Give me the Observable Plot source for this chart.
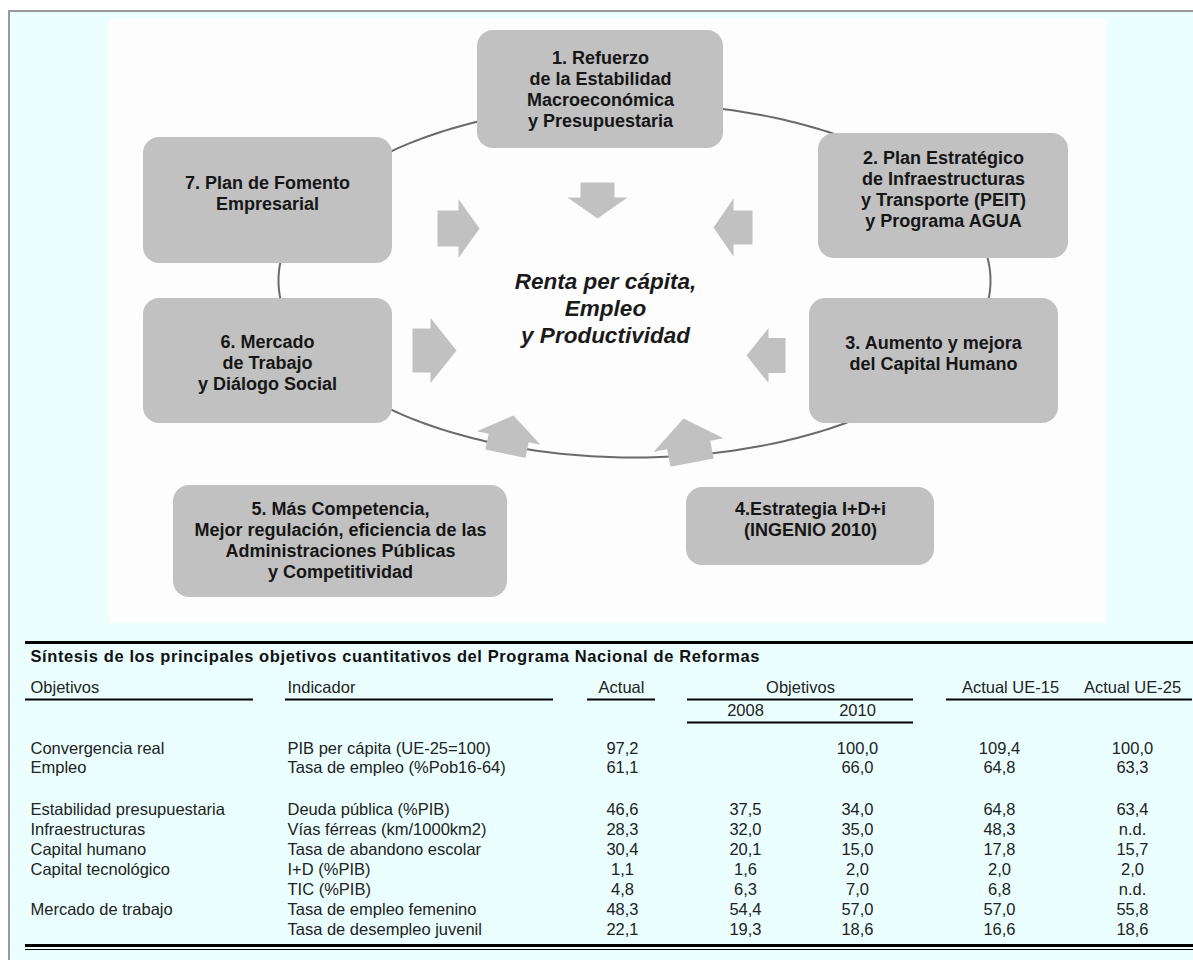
<!DOCTYPE html>
<html><head><meta charset="utf-8">
<script src="https://cdn.jsdelivr.net/npm/d3@7"></script>
<script src="https://cdn.jsdelivr.net/npm/@observablehq/plot@0.6"></script>
<style>html,body{margin:0;padding:0;background:#fff;overflow:hidden}</style>
</head><body><div id="chart"></div>
<script>
// ---------- DATA ----------
const programas = [
  "1. Refuerzo\nde la Estabilidad\nMacroeconómica\ny Presupuestaria",
  "2. Plan Estratégico\nde Infraestructuras\ny Transporte (PEIT)\ny Programa AGUA",
  "3. Aumento y mejora\ndel Capital Humano",
  "4.Estrategia I+D+i\n(INGENIO 2010)",
  "5. Más Competencia,\nMejor regulación, eficiencia de las\nAdministraciones Públicas\ny Competitividad",
  "6. Mercado\nde Trabajo\ny Diálogo Social",
  "7. Plan de Fomento\nEmpresarial"
];
const centro = "Renta per cápita,\nEmpleo\ny Productividad";
const tablaTitulo = "Síntesis de los principales objetivos cuantitativos del Programa Nacional de Reformas";
const cabeceras = ["Objetivos", "Indicador", "Actual", "Objetivos", "Actual UE-15", "Actual UE-25"];
const anios = ["2008", "2010"];
const objetivos = ["Convergencia real", "Empleo", "Estabilidad presupuestaria", "Infraestructuras", "Capital humano", "Capital tecnológico", "", "Mercado de trabajo", ""];
const indicadores = ["PIB per cápita (UE-25=100)", "Tasa de empleo (%Pob16-64)", "Deuda pública (%PIB)", "Vías férreas (km/1000km2)", "Tasa de abandono escolar", "I+D (%PIB)", "TIC (%PIB)", "Tasa de empleo femenino", "Tasa de desempleo juvenil"];
const actual  = [97.2, 61.1, 46.6, 28.3, 30.4, 1.1, 4.8, 48.3, 22.1];
const obj2008 = [null, null, 37.5, 32.0, 20.1, 1.6, 6.3, 54.4, 19.3];
const obj2010 = [100.0, 66.0, 34.0, 35.0, 15.0, 2.0, 7.0, 57.0, 18.6];
const ue15    = [109.4, 64.8, 64.8, 48.3, 17.8, 2.0, 6.8, 57.0, 16.6];
const ue25    = [100.0, 63.3, 63.4, null, 15.7, 2.0, null, 55.8, 18.6];
const noDisponible = "n.d.";

// ---------- LAYOUT ----------
const W = 1193, H = 960;
const FONT = "Liberation Sans, Arial, Helvetica, sans-serif";
const L = {
  frame: {x1: 9, y1: 11, x2: W + 20, y2: H + 20},
  panel: {x1: 109, y1: 19, x2: 1106, y2: 623},
  ellipse: {cx: 634, cy: 280, rx: 356, ry: 177},
  boxes: [
    {x1: 477, x2: 723, y1: 30, y2: 148, tx: 600, ty: 88},
    {x1: 818, x2: 1068, y1: 133, y2: 258, tx: 943, ty: 188},
    {x1: 809, x2: 1058, y1: 298, y2: 423, tx: 933, ty: 352},
    {x1: 686, x2: 934, y1: 487, y2: 565, tx: 810, ty: 518},
    {x1: 173, x2: 507, y1: 485, y2: 597, tx: 340, ty: 539},
    {x1: 143, x2: 392, y1: 298, y2: 423, tx: 267, ty: 362},
    {x1: 143, x2: 392, y1: 137, y2: 263, tx: 267, ty: 192}
  ],
  arrows: [
    {tx: 597, ty: 218, a: 90,   hl: 21, hw: 60, bl: 15, bw: 34},
    {tx: 479, ty: 228, a: 0,    hl: 21, hw: 59, bl: 21, bw: 36},
    {tx: 713, ty: 227, a: 180,  hl: 20, hw: 58, bl: 19, bw: 34},
    {tx: 456, ty: 350, a: 0,    hl: 26, hw: 65, bl: 18, bw: 44},
    {tx: 746, ty: 355, a: 180,  hl: 22, hw: 55, bl: 17, bw: 35},
    {tx: 513, ty: 415, a: -78,  hl: 23, hw: 65, bl: 16, bw: 41},
    {tx: 683, ty: 418, a: -101, hl: 27, hw: 71, bl: 18, bw: 44}
  ],
  centro: {x: 605, y: 307},
  table: {
    left: 25, right: 1193,
    topRule: 642, titleY: 656, headY: 687, headRule: 699, yearY: 710, yearRule: 722,
    rows: [748, 767, 809, 829, 849, 869, 889, 909, 929],
    bottomRule: 945,
    colObj: 30, colInd: 287,
    centers: [622, 745, 857, 999, 1132],
    headCenters: [null, null, 621, 800, 1010, 1132],
    headRules: [[25, 253], [285, 553], [587, 655], [687, 913], [946, 1192]],
    yearRuleX: [687, 913]
  }
};

// ---------- DERIVED GEOMETRY ----------
const fmt = v => d3.format(".1f")(v).replace(".", ",");
const boxes = programas.map((label, i) => ({label, ...L.boxes[i]}));
const E = L.ellipse;
const ellipsePts = d3.range(0, 361, 1).map(t => ({
  x: E.cx + E.rx * Math.cos(t * Math.PI / 180),
  y: E.cy + E.ry * Math.sin(t * Math.PI / 180)
}));
function arrowPts(ar, id) {
  const {hl, hw, bl, bw} = ar;
  const local = [[0, 0], [-hl, -hw / 2], [-hl, -bw / 2], [-hl - bl, -bw / 2], [-hl - bl, bw / 2], [-hl, bw / 2], [-hl, hw / 2], [0, 0]];
  const r = ar.a * Math.PI / 180, c = Math.cos(r), s = Math.sin(r);
  return local.map(([u, v]) => ({id, x: ar.tx + u * c - v * s, y: ar.ty + u * s + v * c}));
}
const arrowData = L.arrows.flatMap((a, i) => arrowPts(a, i));

const T = L.table;
const leftCells = [];
const centerCells = [];
objetivos.forEach((o, i) => {
  leftCells.push({x: T.colObj, y: T.rows[i], t: o});
  leftCells.push({x: T.colInd, y: T.rows[i], t: indicadores[i]});
  const vals = [actual[i], obj2008[i], obj2010[i], ue15[i], ue25[i]];
  vals.forEach((v, j) => {
    const t = v == null ? (j >= 3 ? noDisponible : "") : fmt(v);
    centerCells.push({x: T.centers[j], y: T.rows[i], t});
  });
});
const headLeft = [
  {x: T.colObj, y: T.headY, t: cabeceras[0]},
  {x: T.colInd, y: T.headY, t: cabeceras[1]}
];
const headCenter = cabeceras.slice(2).map((t, k) => ({x: T.headCenters[k + 2], y: T.headY, t}))
  .concat(anios.map((t, k) => ({x: T.centers[k + 1], y: T.yearY, t})));
const thinRules = T.headRules.map(([a, b]) => ({x1: a, x2: b, y: T.headRule}))
  .concat([{x1: T.yearRuleX[0], x2: T.yearRuleX[1], y: T.yearRule}]);
const thickRules = [
  {x1: T.left, x2: T.right, y: T.topRule},
  {x1: T.left, x2: T.right, y: T.bottomRule}
];

// ---------- PLOT ----------
const BODY = 16.5;
const chart = Plot.plot({
  width: W, height: H, margin: 0,
  x: {domain: [0, W], range: [0, W], axis: null},
  y: {domain: [0, H], range: [0, H], axis: null},
  style: {background: "#fff", fontFamily: FONT, overflow: "hidden"},
  marks: [
    Plot.rect([L.frame], {x1: "x1", x2: "x2", y1: "y1", y2: "y2", fill: "#ebffff", stroke: "#9a9a9a", strokeWidth: 2}),
    Plot.rect([L.panel], {x1: "x1", x2: "x2", y1: "y1", y2: "y2", fill: "#fdfdfd"}),
    Plot.line(ellipsePts, {x: "x", y: "y", stroke: "#6a6a6a", strokeWidth: 2}),
    Plot.rect(boxes, {x1: "x1", x2: "x2", y1: "y1", y2: "y2", rx: 16, fill: "#c1c1c1"}),
    Plot.line(arrowData, {x: "x", y: "y", z: "id", fill: "#c1c1c1", stroke: "none", curve: "linear-closed"}),
    Plot.text(boxes, {x: "tx", y: "ty", text: "label", fontSize: 18, fontWeight: "bold", lineHeight: 1.17, fill: "#161616", fontFamily: FONT}),
    Plot.text([L.centro], {x: "x", y: "y", text: () => centro, fontSize: 22.5, fontWeight: "bold", fontStyle: "italic", lineHeight: 1.18, fill: "#1a1a1a", fontFamily: FONT}),
    // table
    Plot.ruleY(thickRules, {y: "y", x1: "x1", x2: "x2", stroke: "#000", strokeWidth: 3}),
    Plot.ruleY([{x1: T.left, x2: T.right, y: T.bottomRule + 4}], {y: "y", x1: "x1", x2: "x2", stroke: "#000", strokeWidth: 1}),
    Plot.ruleY(thinRules, {y: "y", x1: "x1", x2: "x2", stroke: "#000", strokeWidth: 2}),
    Plot.text([{x: T.colObj, y: T.titleY}], {x: "x", y: "y", text: () => tablaTitulo, textAnchor: "start", fontSize: BODY, fontWeight: "bold", fill: "#111", fontFamily: FONT}),
    Plot.text(headLeft, {x: "x", y: "y", text: "t", textAnchor: "start", fontSize: BODY, fill: "#222", fontFamily: FONT}),
    Plot.text(headCenter, {x: "x", y: "y", text: "t", textAnchor: "middle", fontSize: BODY, fill: "#222", fontFamily: FONT}),
    Plot.text(leftCells, {x: "x", y: "y", text: "t", textAnchor: "start", fontSize: BODY, fill: "#222", fontFamily: FONT}),
    Plot.text(centerCells, {x: "x", y: "y", text: "t", textAnchor: "middle", fontSize: BODY, fill: "#222", fontFamily: FONT})
  ]
});
// slightly spaced bold title, as in the original
d3.select(chart).selectAll("text").filter(function() { return this.textContent === tablaTitulo; })
  .attr("letter-spacing", "0.6px");
document.getElementById("chart").append(chart);
</script>
</body></html>
